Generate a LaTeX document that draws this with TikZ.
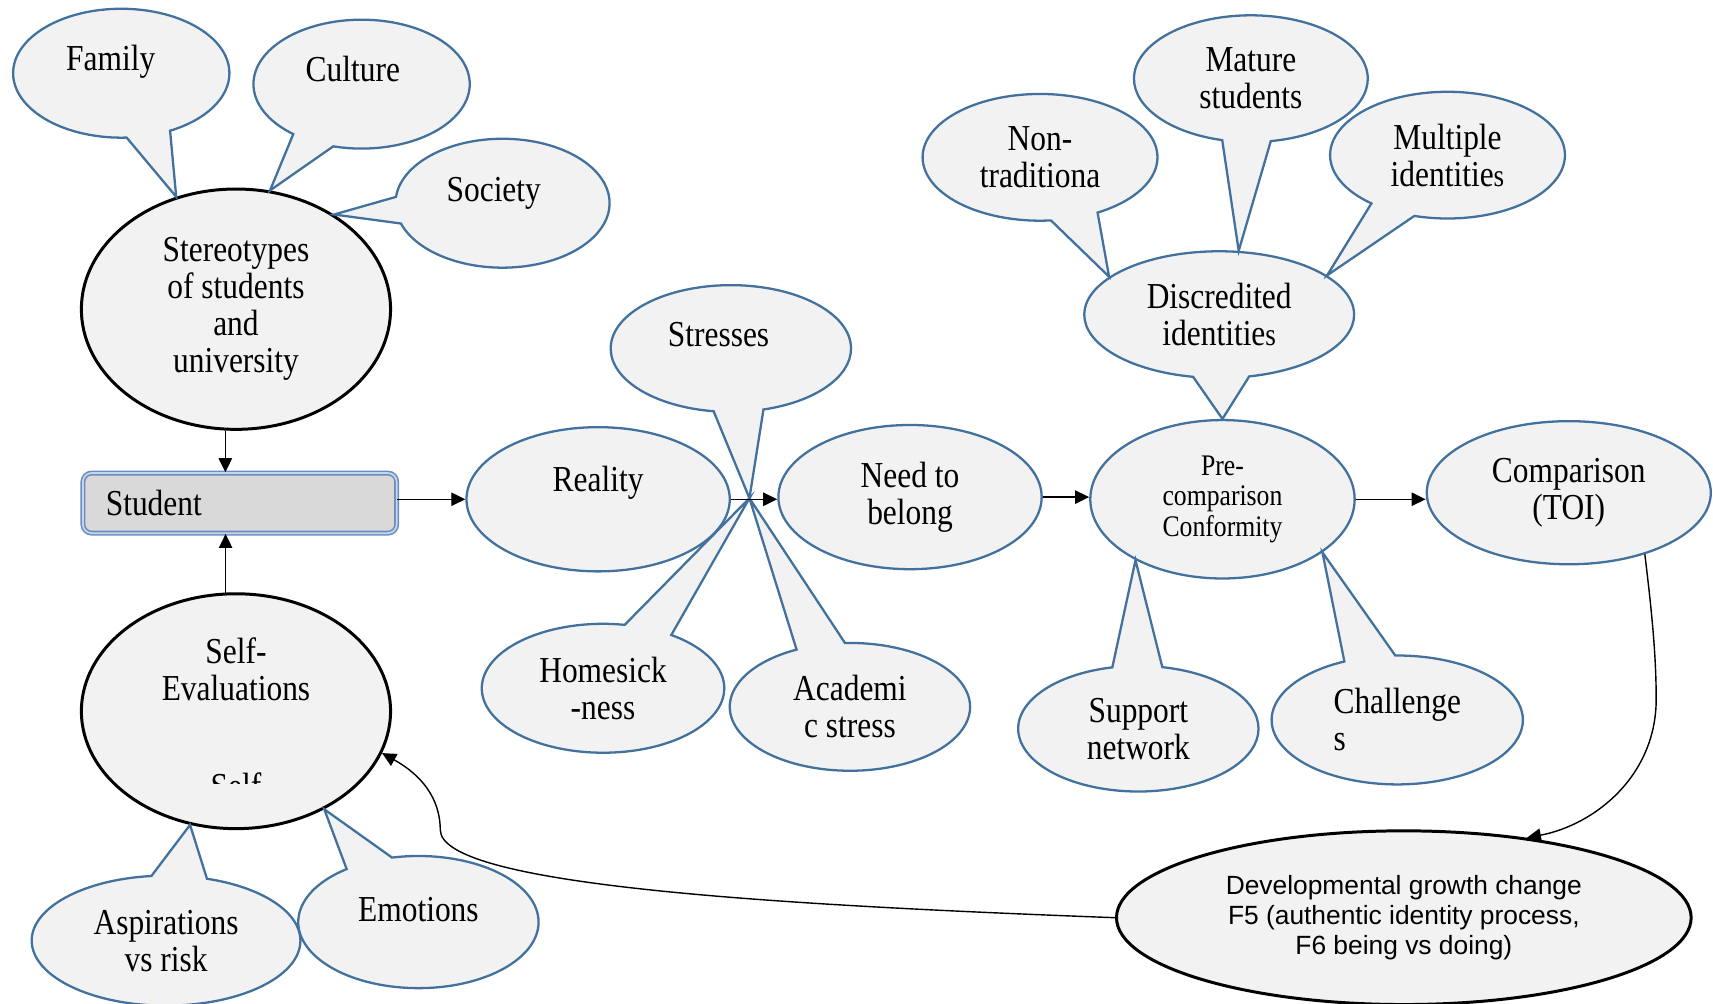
\documentclass[tikz,border=0pt]{standalone}
\usepackage{fontspec}
\setmainfont{Liberation Serif}[FakeStretch=0.86]
\newfontfamily\arialfont{Liberation Sans}
\usetikzlibrary{arrows.meta,shapes.geometric,shapes.callouts}

\definecolor{bubbleline}{HTML}{41719C}
\definecolor{bubblefill}{HTML}{F2F2F2}
\definecolor{boxfill}{HTML}{D9D9D9}
\definecolor{boxline}{HTML}{6C8EBF}
\definecolor{boxinner}{HTML}{C5D6EC}

\newcommand{\unitpx}{0.010925cm}

\begin{document}
\begin{tikzpicture}[x=\unitpx, y=-\unitpx]

\tikzset{bubble/.style = {ellipse callout, draw=bubbleline, fill=bubblefill, line width=0.65pt, callout pointer arc=24, inner sep=0pt, align=center, font=\fontsize{10.4}{10.53}\selectfont}}
\tikzset{blueoval/.style = {ellipse, draw=bubbleline, fill=bubblefill, line width=0.65pt, inner sep=0pt, align=center, font=\fontsize{10.4}{10.53}\selectfont}}
\tikzset{blackoval/.style = {ellipse, draw=black, fill=bubblefill, line width=0.85pt, inner sep=0pt, align=center, font=\fontsize{10.4}{10.53}\selectfont}}
\tikzset{studbox/.style = {rectangle, rounded corners=2.5pt, draw=boxline, double=boxinner, double distance=0.5pt, line width=0.45pt, fill=boxfill, text width=2.68cm, inner xsep=0.229cm, inner ysep=0pt, align=left, font=\fontsize{10.4}{10.53}\selectfont}}
\tikzset{wh/.style 2 args = {minimum width=#1*\unitpx, minimum height=#2*\unitpx}}
\tikzset{lift/.style = {text height=0.295cm, text depth=#1}}
\tikzset{edge/.style = {-{Triangle[length=4pt,width=3.8pt]}, line width=0.4pt}}

\useasboundingbox (0,0) rectangle (1568,919);

% main nodes
\node[blackoval, wh={283}{220}] (stereo) at (216,283) {Stereotypes\\of students\\and\\university};
\node[studbox, minimum height=55*\unitpx] (student) at (219.5,460.5) {Student};
\node[blackoval, wh={283}{215}] (selfev) at (216,651) {Self-\\Evaluations\\\strut\\\strut};
\begin{scope}
\clip (100,690) rectangle (330,717);
\node[font=\fontsize{10.4}{10.53}\selectfont, anchor=base] (selfcut) at (216,731) {Self};
\end{scope}

\node[blueoval, wh={241}{132}, lift=0.454cm] (reality) at (547.5,457) {Reality};
\node[blueoval, wh={241}{132}] (need) at (833,455) {Need to\\belong};
\node[blueoval, wh={242}{145}, font=\fontsize{8.5}{8.67}\selectfont] (pre) at (1119,457) {Pre-\\comparison\\Conformity};
\node[blueoval, wh={260}{131}] (comparison) at (1436,451) {Comparison\\(TOI)};
\node[blackoval, wh={526}{159}, font=\arialfont\fontsize{7.5}{8.67}\selectfont] (devel) at (1285,840) {Developmental growth change\\F5 (authentic identity process,\\F6 being vs doing)};

\coordinate (hub) at (686,456);

% callouts
\node[bubble, wh={198}{118}, lift=0.345cm, callout absolute pointer={(stereo.118)}] (family) at (111,67) {Family\kern6pt};
\node[bubble, wh={198}{118}, lift=0.345cm, callout absolute pointer={(stereo.74)}] (culture) at (331,77) {Culture\kern5pt};
\node[bubble, wh={196}{118}, lift=0.323cm, callout absolute pointer={(stereo.44)}] (society) at (460,186) {Society\kern5pt};

\node[bubble, wh={246}{119}, callout absolute pointer={(selfev.-112)}] (aspire) at (152,861) {Aspirations\\vs risk};
\node[bubble, wh={220}{121}, lift=0.3cm, callout absolute pointer={(selfev.-48)}] (emotions) at (383,844) {Emotions};

\node[bubble, wh={220}{116}, lift=0.345cm, callout absolute pointer={(hub)}] (stresses) at (669,319) {Stresses\kern7pt};
\node[bubble, wh={222}{118}, callout absolute pointer={(hub)}] (homesick) at (552,630) {Homesick\\-ness};
\node[bubble, wh={220}{117}, callout absolute pointer={(hub)}] (academic) at (778,647) {Academi\\c stress};

\node[bubble, wh={247}{116}, callout absolute pointer={(pre.north)}] (disc) at (1116,288) {Discredited\\identitie{\fontsize{9}{10.53}\selectfont s}};
\node[bubble, wh={215}{116}, callout absolute pointer={(disc.161)}] (nontrad) at (952,144) {Non-\\traditiona};
\node[bubble, wh={214}{116}, callout absolute pointer={(disc.73)}] (mature) at (1145,72) {Mature\\students};
\node[bubble, wh={215}{116}, callout absolute pointer={(disc.20)}] (multiple) at (1325,142) {Multiple\\identitie{\fontsize{9}{10.53}\selectfont s}};

\node[bubble, wh={220}{115}, callout absolute pointer={(pre.-145)}] (support) at (1042,667) {Support\\network};
\node[bubble, wh={230}{118}, align=left, callout absolute pointer={(pre.-28)}] (challenge) at (1279,659) {Challenge\\s};

%edges
\draw[edge] (stereo.265) -- (stereo.265 |- student.north);
\draw[edge] (selfev.95) -- (selfev.95 |- student.south);
\draw[edge] (student.east |- reality) -- (reality.west);
\draw[edge] (reality) -- (reality -| need.west);
\draw[edge] (need) -- (need -| pre.west);
\draw[edge] (pre) -- (pre -| comparison.west);
\draw[edge] (comparison.-39) .. controls (1512,560) and (1516,600) .. (1516,640) .. controls (1516,710) and (1460,755) .. (devel.33);
\draw[edge] (devel.west) .. controls (700,828) and (405,810) .. (403,760) .. controls (403,730) and (385,709) .. (selfev.-16);
\end{tikzpicture}
\end{document}
